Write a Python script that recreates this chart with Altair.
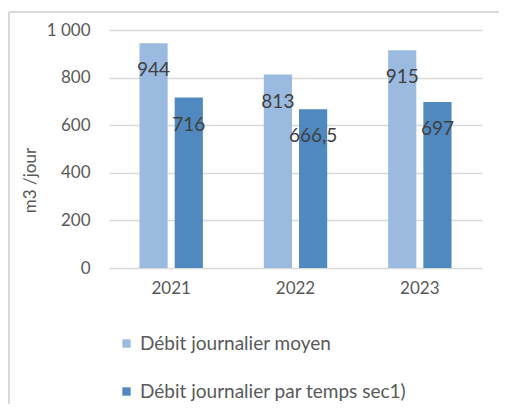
import altair as alt
import pandas as pd

years = ["2021", "2022", "2023"]
series = ["Débit journalier moyen", "Débit journalier par temps sec1)"]
moyen = [944, 813, 915]
sec = [716, 666.5, 697]
colors = ["#9BBAE0", "#4F89BF"]

rows = []
for i, y in enumerate(years):
    rows.append({"year": y, "serie": series[0], "value": moyen[i]})
    rows.append({"year": y, "serie": series[1], "value": sec[i]})
df = pd.DataFrame(rows)

FONT = "Lato"

x = alt.X("year:N", title=None, sort=years,
          scale=alt.Scale(paddingInner=0.49, paddingOuter=0.245),
          axis=alt.Axis(labelAngle=0, domain=False, ticks=False, labelPadding=12,
                        labelFontSize=17, labelColor="#595959", labelFont=FONT))
xo = alt.XOffset("serie:N", sort=series, scale=alt.Scale(paddingInner=0.2))

bars = alt.Chart(df).mark_bar().encode(
    x=x,
    xOffset=xo,
    y=alt.Y("value:Q", title="m3 /jour",
            scale=alt.Scale(domain=[0, 1000]),
            axis=alt.Axis(values=[0, 200, 400, 600, 800, 1000], domain=False, ticks=False,
                          gridColor="#D9D9D9", gridWidth=1.5, labelPadding=19,
                          labelFontSize=17, labelColor="#595959", labelFont=FONT,
                          labelExpr="replace(format(datum.value, ','), ',', ' ')",
                          titleFont=FONT, titleFontSize=17, titleColor="#595959",
                          titleFontWeight="normal", titleX=-79, titleY=150,
                          titleAlign="center", titleBaseline="middle", titleAngle=270)),
    color=alt.Color("serie:N", sort=series,
                    scale=alt.Scale(domain=series, range=colors),
                    legend=alt.Legend(title=None, orient="none", direction="vertical",
                                      legendX=8, legendY=304, symbolType="square",
                                      symbolSize=70, symbolStrokeWidth=0, rowPadding=28,
                                      labelFont=FONT, labelFontSize=19, labelColor="#595959",
                                      labelOffset=4, labelLimit=0)),
)

labels = alt.Chart(df).transform_calculate(
    label="replace(toString(datum.value), '.', ',')"
).mark_text(dy=27, baseline="middle", align="center", font=FONT, fontSize=19,
            color="#404040").encode(
    x=x, xOffset=xo, y="value:Q", text="label:N")

frame_df = pd.DataFrame({"a": [0]})
vline = alt.Chart(frame_df).mark_rule(color="#D9D9D9", strokeWidth=2).encode(
    x=alt.value(-100), y=alt.value(-18), y2=alt.value(400))
hline = alt.Chart(frame_df).mark_rule(color="#D9D9D9", strokeWidth=2).encode(
    x=alt.value(-100), x2=alt.value(392), y=alt.value(-18))

chart = alt.layer(bars, labels, vline, hline).properties(
    width=373, height=238,
    autosize=alt.AutoSizeParams(type="none"),
    padding={"left": 101, "top": 22, "right": 17, "bottom": 136},
).configure(background="white").configure_view(strokeWidth=0, stroke="transparent")

chart.save("out.html", embed_options={"renderer": "svg", "actions": False})
